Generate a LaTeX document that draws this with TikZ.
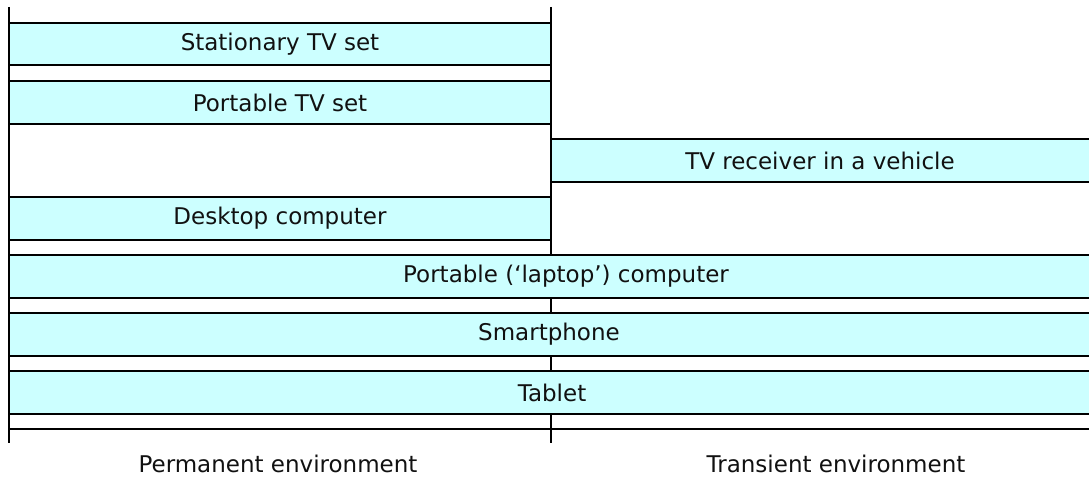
\documentclass[tikz,border=0pt]{standalone}
\usepackage{fontspec}
\setmainfont{DejaVu Sans}
\definecolor{boxcyan}{HTML}{CCFFFF}
\definecolor{inkgray}{HTML}{111111}
\begin{document}
\begin{tikzpicture}[x=1pt,y=-1pt,
  rowbox/.style={fill=boxcyan, draw=none, inner sep=0pt, minimum height=42pt,
    text=inkgray, font=\fontsize{23}{26}\selectfont},
  leftbox/.style={rowbox, minimum width=542pt},
  rightbox/.style={rowbox, minimum width=538pt},
  widebox/.style={rowbox, minimum width=1080pt},
  rule/.style={line width=2pt, draw=black},
  envlabel/.style={inner sep=0pt, text=inkgray, font=\fontsize{23}{26}\selectfont}]
\useasboundingbox (0,0) rectangle (1089,478);
% middle divider (behind boxes)
\coordinate (mtop) at (551,7);
\coordinate (mbot) at (551,443);
\draw[rule] (mtop) -- (mbot);
% left column boxes
\node[leftbox] (st) at (280,44) {Stationary TV set};
\node[leftbox] (pt) at (280,102.5) {Portable TV set};
\node[leftbox] (dc) at (280,218.5) {Desktop computer};
% right column box
\node[rightbox] (tv) at (820,160.5) {TV receiver in a vehicle};
% wide boxes
\node[widebox, minimum width=1114pt] (lp) at (566,276.5) {Portable (‘laptop’) computer};
\node[widebox] (sp) at (549,334.5) {Smartphone};
\node[widebox, minimum width=1086pt] (tb) at (552,392.5) {Tablet};
% box borders
\foreach \b in {st,pt,dc}{\draw[rule] (\b.north west) rectangle (\b.south east);}
\draw[rule] (tv.north east) -- (tv.north west) -- (tv.south west) -- (tv.south east);
\foreach \b in {lp,sp,tb}{
  \draw[rule] (\b.north west) -- (\b.north east);
  \draw[rule] (\b.south west) -- (\b.south east);}
% bottom rule
\coordinate (bl) at (9,429);
\coordinate (br) at (1089,429);
\draw[rule] (bl) -- (br);
% left divider
\coordinate (ltop) at (9,7);
\coordinate (lbot) at (9,443);
\draw[rule] (ltop) -- (lbot);
% labels
\node[envlabel] (perm) at (278,464) {Permanent environment};
\node[envlabel] (trans) at (836,464) {Transient environment};
\end{tikzpicture}
\end{document}
